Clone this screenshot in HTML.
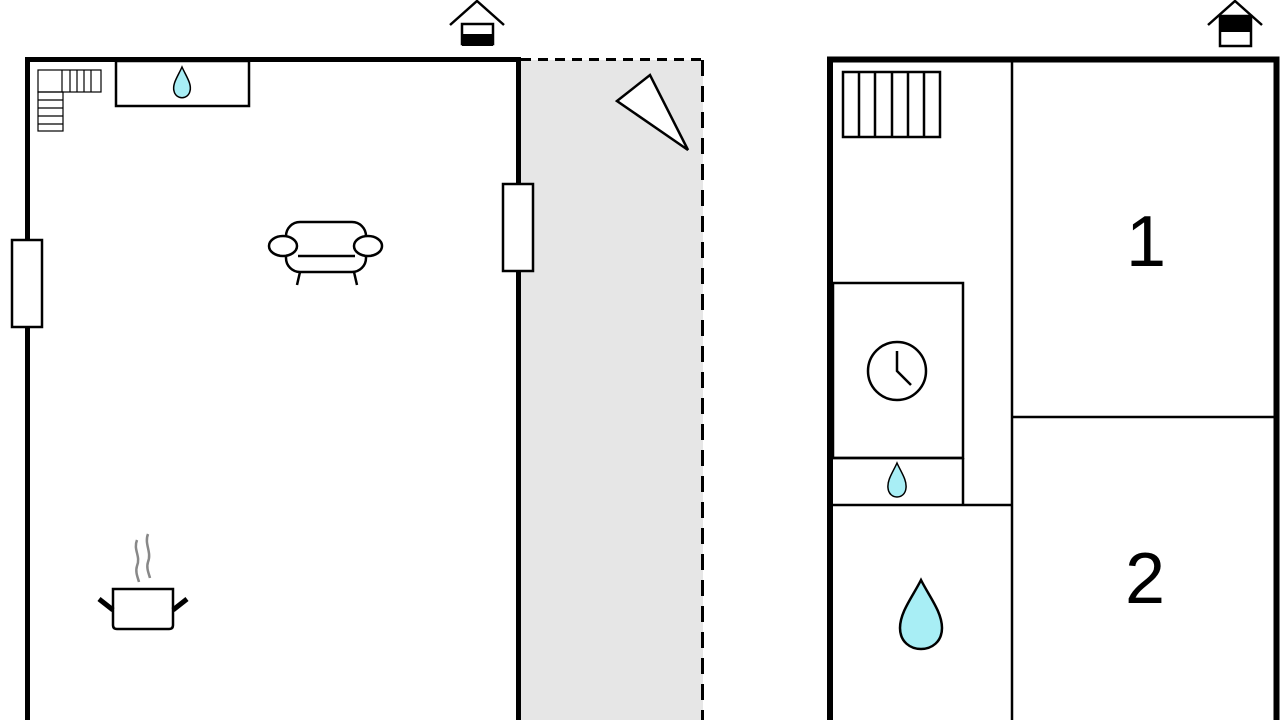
<!DOCTYPE html>
<html><head><meta charset="utf-8"><style>body{margin:0;background:#fff}svg{display:block}</style></head><body>
<svg width="1280" height="720" viewBox="0 0 1280 720" xmlns="http://www.w3.org/2000/svg" fill="none" stroke="#000">
<!-- left terrace -->
<rect x="521" y="60" width="182" height="660" fill="#e6e6e6" stroke="none"/>
<line x1="521" y1="59.5" x2="704" y2="59.5" stroke-width="3" stroke-dasharray="10,7"/>
<line x1="702.5" y1="60" x2="702.5" y2="720" stroke-width="3" stroke-dasharray="16,10"/>
<polygon points="617,101 650,75 688,150" fill="#fff" stroke-width="2.5"/>
<!-- left walls -->
<path d="M27.5 720 V59.5 H518.5 V720" stroke-width="5"/>
<rect x="12" y="240" width="30" height="87" fill="#fff" stroke-width="2.5"/>
<rect x="503" y="184" width="30" height="87" fill="#fff" stroke-width="2.5"/>
<rect x="116" y="61" width="133" height="45" stroke-width="2.5"/>
<path d="M183 89 c-4 -7 -5 -13 -1 -20 c4 7 3 13 -1 20 z" />
<path d="M182 67 C178 76 172 84 174 91 C176 100 188 100 190 91 C192 84 186 76 182 67Z" fill="#a8eef5" stroke-width="1.5"/>
<!-- left stairs -->
<g stroke-width="1.2">
<rect x="38" y="70" width="63" height="22"/>
<line x1="62" y1="70" x2="62" y2="92"/><line x1="70" y1="70" x2="70" y2="92"/><line x1="77" y1="70" x2="77" y2="92"/><line x1="84" y1="70" x2="84" y2="92"/><line x1="91" y1="70" x2="91" y2="92"/>
<rect x="38" y="92" width="25" height="39"/>
<line x1="38" y1="100" x2="63" y2="100"/><line x1="38" y1="108" x2="63" y2="108"/><line x1="38" y1="116" x2="63" y2="116"/><line x1="38" y1="124" x2="63" y2="124"/>
</g>
<!-- house icon left -->
<path d="M450 25 L477 1 L504 25" stroke-width="2.5"/>
<rect x="462" y="24" width="31" height="20" fill="#fff" stroke-width="2.5"/>
<rect x="462" y="34" width="31" height="12" fill="#000" stroke="none"/>
<!-- sofa -->
<g stroke-width="2.5">
<rect x="286" y="222" width="80" height="50" rx="14" fill="#fff"/>
<line x1="298" y1="256" x2="355" y2="256"/>
<ellipse cx="283" cy="246" rx="14" ry="10" fill="#fff"/>
<ellipse cx="368" cy="246" rx="14" ry="10" fill="#fff"/>
<line x1="300" y1="272" x2="297" y2="285"/><line x1="354" y1="272" x2="357" y2="285"/>
</g>
<!-- pot -->
<g stroke-width="2.5">
<path d="M113 589 H173 V625 q0 4 -4 4 H117 q-4 0 -4 -4 Z"/>
<line x1="99" y1="599" x2="113" y2="610" stroke-width="5"/>
<line x1="187" y1="599" x2="173" y2="610" stroke-width="5"/>
<path d="M137 540 c-4 10 4 16 0 26 c-2 6 1 12 2 16 M148 534 c-4 10 4 18 0 28 c-2 6 1 12 2 16" stroke="#888" stroke-width="2.5"/>
</g>
<!-- right building -->
<path d="M830 720 V59.5 H1276.5 V720" stroke-width="6"/>
<g stroke-width="2.5">
<line x1="1012" y1="62" x2="1012" y2="720"/>
<line x1="1012" y1="417" x2="1274" y2="417"/>
<rect x="833" y="283" width="130" height="175"/>
<line x1="833" y1="458" x2="963" y2="458"/>
<line x1="963" y1="458" x2="963" y2="505"/>
<line x1="833" y1="505" x2="1012" y2="505"/>
<rect x="843" y="72" width="97" height="65"/>
<line x1="859" y1="72" x2="859" y2="137"/><line x1="875" y1="72" x2="875" y2="137"/><line x1="892" y1="72" x2="892" y2="137"/><line x1="908" y1="72" x2="908" y2="137"/><line x1="924" y1="72" x2="924" y2="137"/>
<circle cx="897" cy="371" r="29"/>
<path d="M897 351 V371 L911 385"/>
</g>
<path d="M897 463 C893 472 887 480 888 488 C889 500 905 500 906 488 C907 480 901 472 897 463Z" fill="#a8eef5" stroke-width="1.5"/>
<path d="M921 580 C913 596 900 612 900 628 C900 656 942 656 942 628 C942 612 929 596 921 580Z" fill="#a8eef5" stroke-width="2.5"/>
<path d="M1208 25 L1235 1 L1262 25" stroke-width="2.5"/>
<rect x="1220" y="16" width="31" height="30" fill="#fff" stroke-width="2.5"/>
<rect x="1220" y="16" width="31" height="16" fill="#000" stroke="none"/>
<text x="1146" y="266" font-family="Liberation Sans, sans-serif" font-size="72" fill="#000" stroke="none" text-anchor="middle">1</text>
<text x="1145" y="603" font-family="Liberation Sans, sans-serif" font-size="72" fill="#000" stroke="none" text-anchor="middle">2</text>
</svg>
</body></html>
